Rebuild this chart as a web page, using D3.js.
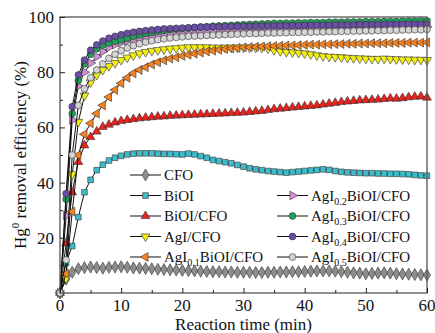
<!DOCTYPE html>
<html>
<head>
<meta charset="utf-8">
<script src="https://cdn.jsdelivr.net/npm/d3@7"></script>
<style>
body { margin: 0; background: #fff; }
svg text { font-family: 'Liberation Serif', 'Times New Roman', 'DejaVu Serif', serif; fill: #111; }
</style>
</head>
<body>
<svg id="chart" width="435" height="333" font-family="Liberation Serif, Times New Roman, serif"></svg>
<script>
// time axis: one reading per minute, 0..60
var times = d3.range(0, 61);

var cfo = [0, 5, 7.5, 8.8, 9.2, 9.4, 9.2, 9.0, 9.3, 9.4, 9.5, 9.3, 9.1, 9.0, 8.9, 8.8, 8.6, 8.5, 8.4, 8.3, 8.2, 8.1, 8.0, 7.9, 7.8, 7.7, 7.7, 7.6, 7.6, 7.5, 7.5,
    7.5, 7.4, 7.4, 7.5, 7.5, 7.6, 7.6, 7.7, 7.7, 7.8, 7.9, 8.0, 8.0, 8.0, 7.9, 7.7, 7.5, 7.3, 7.2, 7.0, 7.1, 7.2, 7.3, 7.2, 7.0, 6.9, 6.8, 6.7, 6.6, 6.5];
var biOI = [0, 11, 17, 27.5, 36.5, 41, 44.5, 46.5, 48, 49, 49.7, 50.2, 50.5, 50.6, 50.6, 50.6, 50.5, 50.4, 50.4, 50.3, 50.2, 50.5, 50.2, 49.6, 49, 48.2, 47.8, 47.4, 47, 46.4, 45.8,
    45.2, 44.8, 44.5, 44.2, 44.0, 43.8, 43.6, 43.8, 44.0, 44.2, 44.4, 44.6, 44.8, 44.6, 44.2, 43.9, 43.7, 43.6, 43.5, 43.4, 43.4, 43.3, 43.3, 43.2, 43.2, 43.1, 43.0, 42.8, 42.6, 42.5];
var biOICfo = [0, 18, 36.5, 47.5, 53.5, 56.5, 58.5, 60.2, 61.0, 61.8, 62.3, 62.7, 63.0, 63.3, 63.5, 63.7, 63.9, 64.0, 64.2, 64.3, 64.4, 64.5, 64.6, 64.7, 64.8, 64.9, 65.0, 65.1, 65.2, 65.3, 65.4,
    65.6, 65.8, 66.0, 66.3, 66.6, 66.8, 67.0, 67.2, 67.4, 67.6, 67.8, 68.0, 68.3, 68.6, 68.9, 69.2, 69.4, 69.6, 69.8, 69.9, 70.0, 70.1, 70.3, 70.5, 70.4, 70.6, 70.9, 71.1, 71.2, 70.8];
var agICfo = [0, 5.3, 43, 62, 71.5, 76.3, 79, 80.8, 82.2, 83.3, 84.4, 85.3, 86.1, 86.8, 87.3, 87.7, 88.0, 88.3, 88.5, 88.7, 88.9, 89.0, 89.0, 89.0, 89.0, 88.9, 88.9, 88.9, 88.9, 88.9, 88.9,
    88.9, 88.9, 88.9, 88.6, 88.0, 87.6, 87.3, 87.2, 87.0, 86.8, 86.5, 86.1, 85.8, 85.6, 85.5, 85.4, 85.2, 85.1, 85.0, 84.9, 84.8, 84.8, 84.9, 84.8, 84.7, 84.6, 84.6, 84.5, 84.5, 84.4];
var agI01 = [0, 7, 29.5, 50, 57.5, 61.5, 65, 68, 71, 73.6, 76, 78, 79.6, 80.8, 81.8, 82.8, 83.6, 84.3, 84.9, 85.4, 85.9, 86.3, 86.7, 87.1, 87.5, 87.8, 88.1, 88.4, 88.6, 88.8, 89.0,
    89.1, 89.2, 89.3, 89.4, 89.5, 89.6, 89.7, 89.7, 89.8, 89.9, 90.0, 90.0, 90.1, 90.1, 90.2, 90.2, 90.3, 90.3, 90.4, 90.4, 90.5, 90.5, 90.5, 90.6, 90.6, 90.6, 90.7, 90.7, 90.7, 90.8];
var agI02 = [0, 28, 62.7, 75, 80, 83.3, 85.6, 87.5, 89, 90, 90.7, 91.3, 91.8, 92.2, 92.5, 92.8, 93.1, 93.3, 93.5, 93.7, 93.9, 94.0, 94.1, 94.2, 94.3, 94.4, 94.5, 94.6, 94.7, 94.8, 94.9,
    95.0, 95.0, 95.1, 95.1, 95.2, 95.2, 95.3, 95.3, 95.4, 95.4, 95.5, 95.5, 95.5, 95.6, 95.6, 95.7, 95.7, 95.8, 95.8, 95.9, 95.9, 96.0, 96.0, 96.1, 96.1, 96.2, 96.2, 96.3, 96.3, 96.4];
var agI03 = [0, 34, 65, 77, 83, 86.5, 88.5, 89.8, 90.6, 91.2, 91.7, 92.3, 93.0, 93.5, 94.0, 94.4, 94.8, 95.1, 95.4, 95.6, 95.8, 96.0, 96.2, 96.4, 96.5, 96.7, 96.8, 96.9, 97.0, 97.1, 97.2,
    97.3, 97.4, 97.5, 97.6, 97.7, 97.7, 97.8, 97.8, 97.9, 97.9, 98.0, 98.0, 98.0, 98.1, 98.1, 98.1, 98.2, 98.2, 98.2, 98.3, 98.3, 98.3, 98.4, 98.4, 98.4, 98.5, 98.5, 98.5, 98.6, 98.6];
var agI04 = [0, 36, 67.5, 79, 84.4, 88, 89.9, 91.3, 92.3, 93.0, 93.6, 94.1, 94.5, 94.8, 95.1, 95.3, 95.5, 95.7, 95.8, 95.9, 96.0, 96.1, 96.2, 96.3, 96.3, 96.4, 96.4, 96.5, 96.5, 96.6, 96.6,
    96.6, 96.7, 96.7, 96.7, 96.8, 96.8, 96.8, 96.9, 96.9, 96.9, 97.0, 97.0, 97.0, 97.0, 97.1, 97.1, 97.1, 97.1, 97.2, 97.2, 97.2, 97.2, 97.3, 97.3, 97.3, 97.3, 97.4, 97.4, 97.4, 97.4];
var agI05 = [0, 12, 50, 68, 74, 78, 80.8, 83, 85, 86.5, 87.8, 88.8, 89.6, 90.3, 90.9, 91.4, 91.8, 92.1, 92.4, 92.6, 92.8, 93.0, 93.1, 93.2, 93.3, 93.4, 93.5, 93.6, 93.7, 93.8, 93.9,
    94.0, 94.0, 94.1, 94.2, 94.2, 94.3, 94.3, 94.4, 94.4, 94.5, 94.5, 94.6, 94.6, 94.7, 94.7, 94.8, 94.8, 94.9, 94.9, 95.0, 95.0, 95.1, 95.1, 95.2, 95.2, 95.3, 95.3, 95.4, 95.4, 95.5];

// legend names: [main part, subscript, rest]
var names = [["CFO", "", ""], ["BiOI", "", ""], ["BiOI/CFO", "", ""], ["AgI/CFO", "", ""],
    ["AgI", "0.1", "BiOI/CFO"], ["AgI", "0.2", "BiOI/CFO"], ["AgI", "0.3", "BiOI/CFO"],
    ["AgI", "0.4", "BiOI/CFO"], ["AgI", "0.5", "BiOI/CFO"]];
var colors = ["#8c8c8c", "#3dbccc", "#e8231e", "#f2ee12", "#f5821f", "#d58fd6", "#1fa35a", "#6a4ea6", "#d4d4d4"];
var markers = ["diamond", "square", "up", "down", "left", "right", "circle", "circle", "circle"];
var seriesValues = [cfo, biOI, biOICfo, agICfo, agI01, agI02, agI03, agI04, agI05];

var xTicks = [0, 10, 20, 30, 40, 50, 60];
var yTicks = [20, 40, 60, 80, 100];

var FONT = "'Liberation Serif', 'Times New Roman', serif";
var svg = d3.select("#chart");
var x = d3.scaleLinear().domain([0, 60]).range([60, 427]);
var y = d3.scaleLinear().domain([0, 100]).range([293, 17]);

function markerPath(kind) {
    if (kind == "diamond") return d3.symbol().type(d3.symbolDiamond).size(42)();
    if (kind == "square") return d3.symbol().type(d3.symbolSquare).size(32)();
    if (kind == "circle") return d3.symbol().type(d3.symbolCircle).size(36)();
    return d3.symbol().type(d3.symbolTriangle).size(34)();
}
function markerRotate(kind) {
    if (kind == "down") return 180;
    if (kind == "left") return -90;
    if (kind == "right") return 90;
    return 0;
}

var line = d3.line()
    .x(function (d) { return x(d.t); })
    .y(function (d) { return y(d.v); });

var plot = svg.append("g");
seriesValues.forEach(function (vals, i) {
    var pts = times.map(function (t, j) { return {t: t, v: vals[j]}; });
    var g = plot.append("g");
    g.append("path")
        .attr("d", line(pts))
        .attr("fill", "none")
        .attr("stroke", "#111")
        .attr("stroke-width", 1);
    g.selectAll("path.m").data(pts).enter().append("path")
        .attr("class", "m")
        .attr("d", markerPath(markers[i]))
        .attr("transform", function (d) {
            return "translate(" + x(d.t) + "," + y(d.v) + ") rotate(" + markerRotate(markers[i]) + ")";
        })
        .attr("fill", colors[i])
        .attr("stroke", "#333")
        .attr("stroke-width", 0.6);
});

// frame
svg.append("rect")
    .attr("x", 60).attr("y", 17)
    .attr("width", 367).attr("height", 276)
    .attr("fill", "none")
    .attr("stroke", "#555")
    .attr("stroke-width", 1.3);

// axes with inward ticks
var xAxis = svg.append("g").attr("transform", "translate(0,293)");
xAxis.call(d3.axisBottom(x).tickValues(d3.range(0, 61, 5)).tickSizeOuter(0).tickFormat(""));
xAxis.selectAll(".tick line").attr("y2", function (d) { return d % 10 == 0 ? -5 : -3; }).attr("stroke", "#222");
xAxis.select(".domain").remove();
svg.selectAll(".xlab").data(xTicks).enter().append("text")
    .attr("x", function (d) { return x(d); })
    .attr("y", 311)
    .attr("text-anchor", "middle")
    .style("font-family", FONT)
    .style("font-size", "17px")
    .text(function (d) { return d; });

var yAxis = svg.append("g").attr("transform", "translate(60,0)");
yAxis.call(d3.axisLeft(y).tickValues(d3.range(10, 101, 10)).tickSizeOuter(0).tickFormat(""));
yAxis.selectAll(".tick line").attr("x2", function (d) { return d % 20 == 0 ? 5 : 3; }).attr("stroke", "#222");
yAxis.select(".domain").remove();
svg.selectAll(".ylab").data(yTicks).enter().append("text")
    .attr("x", 54)
    .attr("y", function (d) { return y(d) + 6; })
    .attr("text-anchor", "end")
    .style("font-family", FONT)
    .style("font-size", "17px")
    .text(function (d) { return d; });

svg.append("text")
    .attr("x", x(30))
    .attr("y", 330)
    .attr("text-anchor", "middle")
    .style("font-family", FONT)
    .style("font-size", "17px")
    .text("Reaction time (min)");

var yTitle = svg.append("text")
    .attr("transform", "translate(26,155) rotate(-90)")
    .attr("text-anchor", "middle")
    .style("font-family", FONT)
    .style("font-size", "17px");
yTitle.append("tspan").text("Hg");
yTitle.append("tspan").attr("dy", -7).style("font-size", "11px").text("0");
yTitle.append("tspan").attr("dy", 7).text(" removal efficiency (%)");

// legend, two columns
var legendPos = [[130, 0], [130, 1], [130, 2], [130, 3], [130, 4], [277, 1], [277, 2], [277, 3], [277, 4]];
names.forEach(function (nm, i) {
    var lx = legendPos[i][0];
    var ly = 175 + legendPos[i][1] * 20.5;
    var g = svg.append("g");
    g.append("line")
        .attr("x1", lx).attr("x2", lx + 31)
        .attr("y1", ly).attr("y2", ly)
        .attr("stroke", "#111").attr("stroke-width", 1);
    g.append("path")
        .attr("d", markerPath(markers[i]))
        .attr("transform", "translate(" + (lx + 15.5) + "," + ly + ") rotate(" + markerRotate(markers[i]) + ")")
        .attr("fill", colors[i])
        .attr("stroke", "#333")
        .attr("stroke-width", 0.6);
    var t = g.append("text")
        .attr("x", lx + 34)
        .attr("y", ly + 5)
        .style("font-family", FONT)
        .style("font-size", "15px");
    t.append("tspan").text(nm[0]);
    if (nm[1]) {
        t.append("tspan").attr("dy", 4).style("font-size", "10px").text(nm[1]);
        t.append("tspan").attr("dy", -4).text(nm[2]);
    }
});
</script>
</body>
</html>
